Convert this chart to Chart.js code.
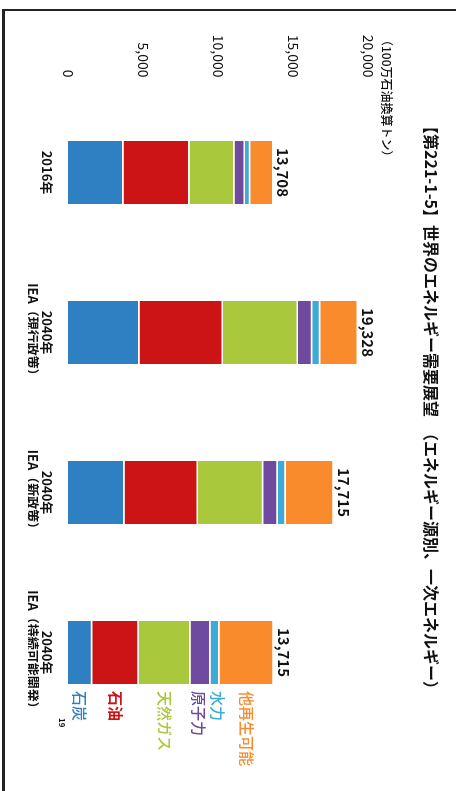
<!DOCTYPE html>
<html>
<head>
<meta charset="utf-8">
<script src="https://cdn.jsdelivr.net/npm/chart.js@4/dist/chart.umd.min.js"></script>
<style>
  html, body { margin: 0; padding: 0; background: #fff; }
  body { width: 456px; height: 791px; position: relative; overflow: hidden; }
  #turn {
    position: absolute; left: 0; top: 0;
    width: 791px; height: 456px;
    transform-origin: 0 0;
    transform: translate(456px, 0) rotate(90deg);
  }
  #frame {
    position: absolute; left: 2px; top: 9px; width: 454px; height: 782px;
    border-top: 2px solid #222; border-left: 3px solid #222;
    box-sizing: border-box; pointer-events: none;
  }
</style>
</head>
<body>
<div id="turn"><canvas id="myChart" width="791" height="456"></canvas></div>
<div id="frame"></div>
<script>
const categories = [
    ['2016年'],
    ['2040年', 'IEA（現行政策）'],
    ['2040年', 'IEA（新政策）'],
    ['2040年', 'IEA（持続可能開発）']
];
const sources = ['石炭', '石油', '天然ガス', '原子力', '水力', '他再生可能'];
// 100万石油換算トン
const coal = [3700, 4770, 3770, 1620];
const oil = [4400, 5570, 4890, 3100];
const gas = [3000, 5000, 4360, 3450];
const nuclear = [700, 940, 960, 1330];
const hydro = [350, 530, 530, 600];
const renewables = [1558, 2518, 3205, 3615];
const yTicks = [0, 5000, 10000, 15000, 20000];

const colors = ['#2f80c2', '#cc1417', '#a9c83c', '#6f4a9e', '#3cabd6', '#f98b2c'];
const series = [coal, oil, gas, nuclear, hydro, renewables];
const jp = '"Noto Sans CJK JP", "Noto Sans", sans-serif';

const totals = categories.map((c, i) => series.reduce((s, arr) => s + arr[i], 0));

const extras = {
    id: 'extras',
    afterDatasetsDraw(chart) {
        const ctx = chart.ctx;
        ctx.save();
        ctx.fillStyle = '#111';

        // title
        ctx.font = 'bold 16px ' + jp;
        ctx.textAlign = 'left';
        ctx.textBaseline = 'middle';
        ctx.fillText('【第221-1-5】世界のエネルギー需要展望　（エネルギー源別、一次エネルギー）', 118, 25);

        // unit
        ctx.font = '500 12px ' + jp;
        ctx.fillText('（100万石油換算トン）', 34, 69);

        // totals above each stack
        const topMeta = chart.getDatasetMeta(series.length - 1);
        ctx.font = 'bold 15px ' + jp;
        ctx.textAlign = 'center';
        ctx.textBaseline = 'bottom';
        topMeta.data.forEach((bar, i) => {
            ctx.fillText(totals[i].toLocaleString('en-US'), bar.x, bar.y - 2);
        });

        // source names beside the last stack
        const last = categories.length - 1;
        const ys = series.map((arr, d) => {
            const bar = chart.getDatasetMeta(d).data[last];
            return (bar.y + bar.base) / 2;
        });
        for (let k = 0; k < 3; k++) {
            for (let d = 1; d < ys.length; d++) {
                const gap = ys[d - 1] - ys[d];
                if (gap < 19) {
                    const push = (19 - gap) / 2;
                    ys[d - 1] += push;
                    ys[d] -= push;
                }
            }
        }
        const lastBar = chart.getDatasetMeta(0).data[last];
        const lx = lastBar.x + lastBar.width / 2 + 7;
        ctx.textAlign = 'left';
        ctx.textBaseline = 'middle';
        sources.forEach((name, d) => {
            ctx.font = (d === 1 ? 'bold' : '500') + ' 15px ' + jp;
            ctx.fillStyle = colors[d];
            ctx.fillText(name, lx, ys[d]);
        });

        ctx.fillStyle = '#111';
        ctx.font = 'bold 8px ' + jp;
        ctx.fillText('19', 718, 394);
        ctx.restore();
    }
};

const ctx = document.getElementById('myChart');
const chart = new Chart(ctx, {
    type: 'bar',
    data: {
        labels: categories,
        datasets: series.map((arr, d) => ({
            label: sources[d],
            data: arr,
            backgroundColor: colors[d],
            borderColor: '#fff',
            borderWidth: { top: 1.5, left: 0, right: 0, bottom: 0 },
            borderSkipped: false,
            categoryPercentage: 1,
            barPercentage: 0.394
        }))
    },
    options: {
        responsive: false,
        animation: false,
        locale: 'en-US',
        layout: { padding: { left: 0, right: 58.5, top: 88, bottom: 28 } },
        scales: {
            x: {
                stacked: true,
                grid: { display: false, drawTicks: false },
                border: { display: false },
                ticks: {
                    color: '#111',
                    padding: 14,
                    font: { family: jp, size: 13, weight: 'bold', lineHeight: 1.1 }
                },
                afterFit(scale) { scale.height = 40; }
            },
            y: {
                stacked: true,
                min: 0,
                max: 20000,
                grid: { display: false, drawTicks: false },
                border: { display: false },
                afterBuildTicks(scale) { scale.ticks = yTicks.map(v => ({ value: v })); },
                ticks: {
                    color: '#111',
                    padding: 15,
                    font: { family: jp, size: 14 },
                    callback: v => v.toLocaleString('en-US')
                },
                afterFit(scale) { scale.width = 92.5; }
            }
        },
        plugins: {
            legend: { display: false },
            tooltip: { enabled: false }
        }
    },
    plugins: [extras]
});
</script>
</body>
</html>
